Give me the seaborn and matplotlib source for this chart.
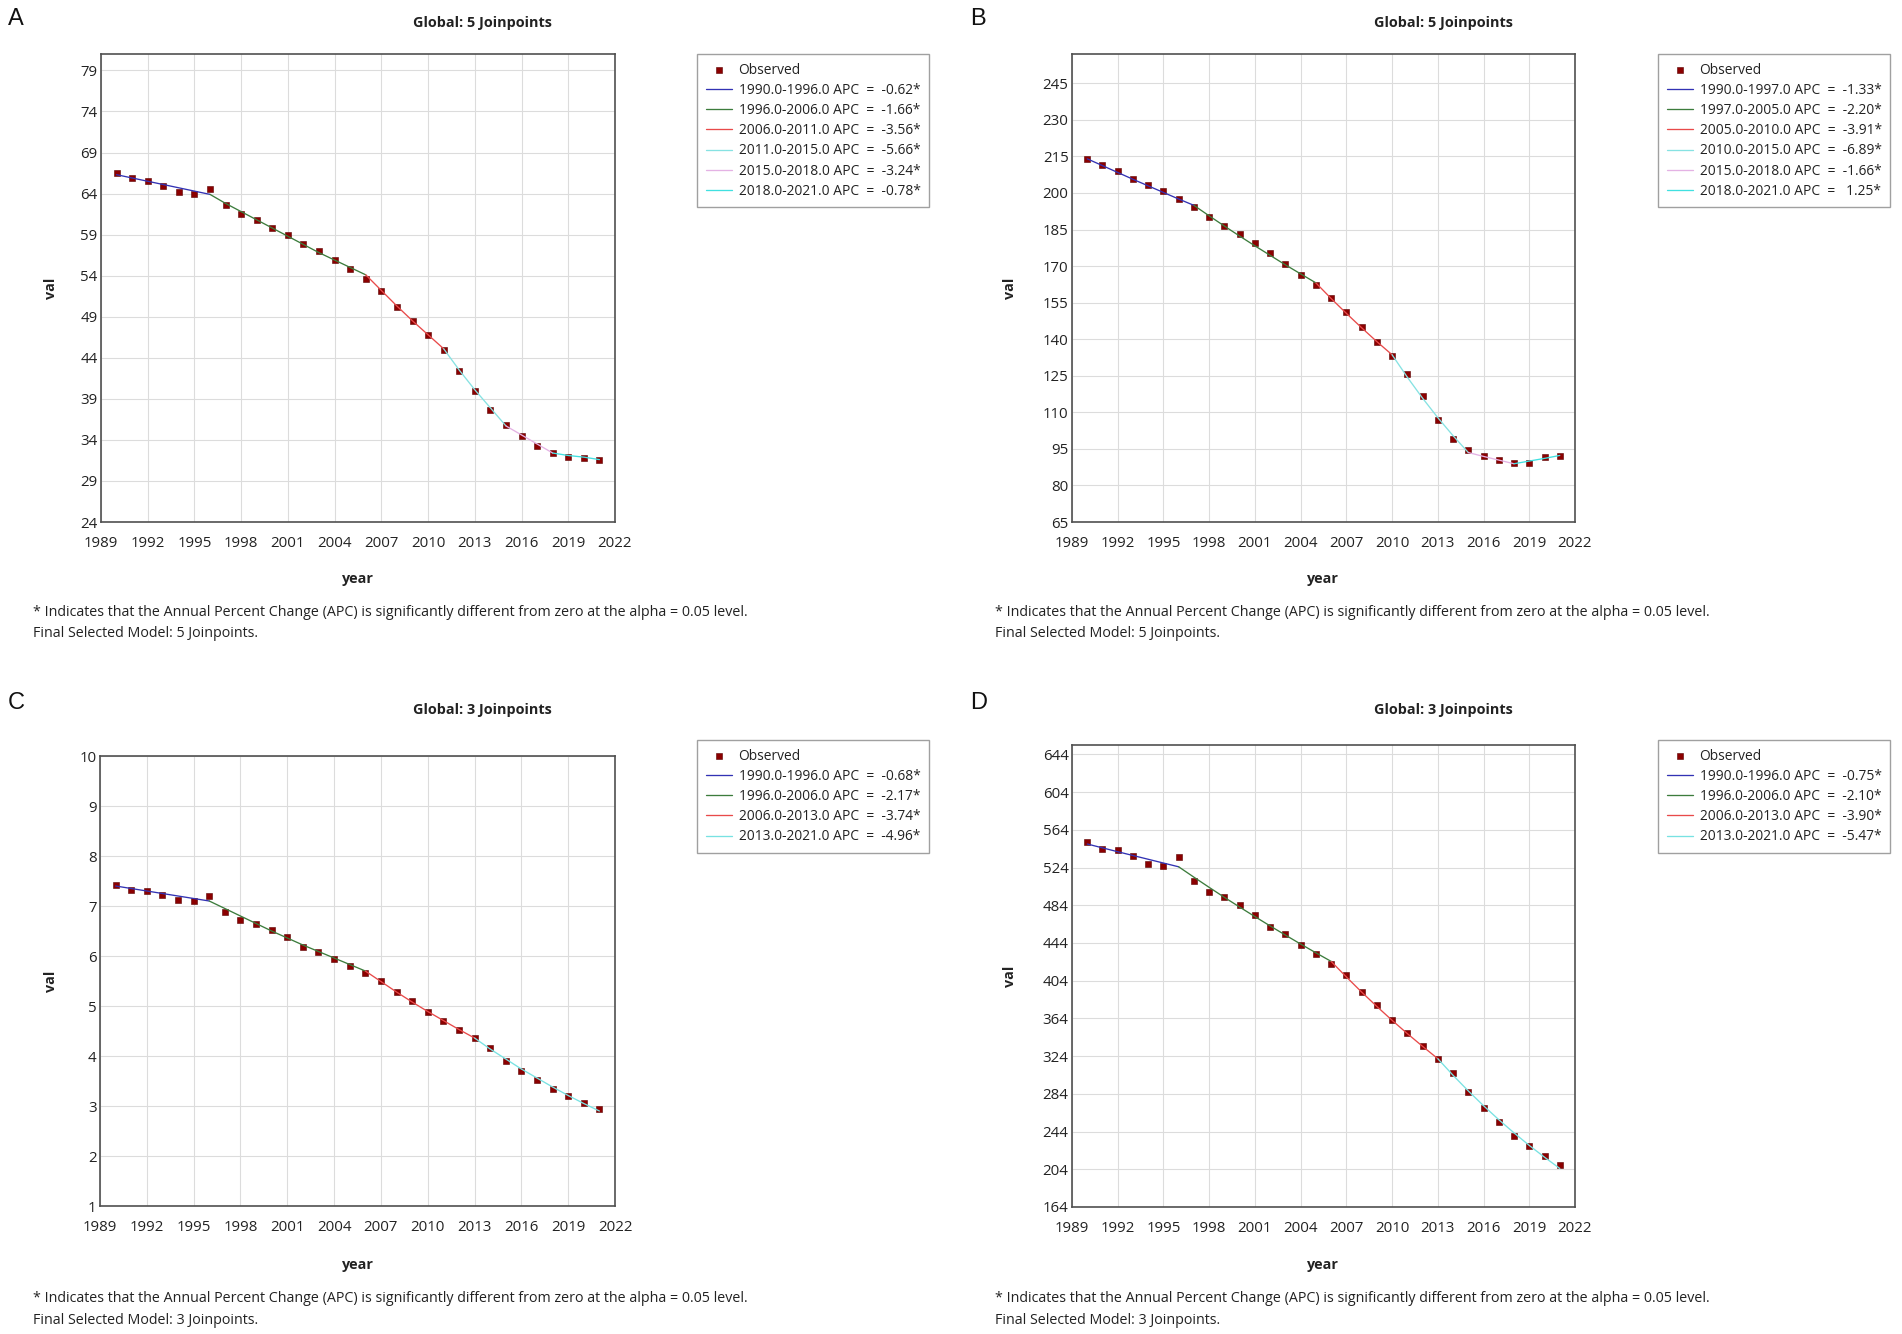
import matplotlib
matplotlib.use("Agg")
import matplotlib.pyplot as plt
import seaborn as sns
import pandas as pd

# ---------------- data ----------------
years = list(range(1990, 2022))

a_obs = [66.5, 65.9, 65.5, 64.9, 64.2, 63.9, 64.5, 62.6, 61.5, 60.8, 59.8, 59.0, 57.8, 57.0, 55.9, 54.8,
         53.6, 52.1, 50.2, 48.5, 46.8, 44.9, 42.4, 40.0, 37.7, 35.8, 34.5, 33.3, 32.4, 31.9, 31.8, 31.6]
a_fit = [66.3, 65.9, 65.5, 65.1, 64.7, 64.3, 63.9, 62.8, 61.8, 60.8, 59.8, 58.8, 57.8, 56.8, 55.9, 55.0,
         54.1, 52.2, 50.3, 48.5, 46.8, 45.1, 42.5, 40.1, 37.9, 35.7, 34.6, 33.5, 32.4, 32.1, 31.9, 31.6]
a_join_years = [1990, 1996, 2006, 2011, 2015, 2018, 2021]
a_apc = [-0.62, -1.66, -3.56, -5.66, -3.24, -0.78]

b_obs = [214.0, 211.4, 208.8, 205.8, 203.2, 200.6, 197.6, 194.1, 190.3, 186.6, 183.1, 179.4, 175.2, 171.0,
         166.5, 162.1, 157.0, 151.1, 144.8, 138.7, 132.9, 125.7, 116.6, 107.0, 98.9, 94.4, 92.1, 90.4,
         89.1, 89.1, 91.8, 92.1]
b_fit = [214.0, 211.2, 208.4, 205.6, 202.9, 200.2, 197.5, 194.9, 190.6, 186.4, 182.3, 178.3, 174.4, 170.5,
         166.8, 163.1, 156.7, 150.6, 144.7, 139.0, 133.6, 124.4, 115.8, 107.8, 100.4, 93.5, 91.9, 90.4,
         88.9, 90.0, 91.1, 92.3]
b_join_years = [1990, 1997, 2005, 2010, 2015, 2018, 2021]
b_apc = [-1.33, -2.20, -3.91, -6.89, -1.66, 1.25]

c_obs = [7.42, 7.33, 7.30, 7.23, 7.13, 7.10, 7.21, 6.88, 6.73, 6.65, 6.52, 6.38, 6.19, 6.09, 5.94, 5.81,
         5.67, 5.50, 5.28, 5.10, 4.88, 4.71, 4.52, 4.37, 4.17, 3.91, 3.70, 3.52, 3.34, 3.20, 3.06, 2.95]
c_fit = [7.40, 7.35, 7.30, 7.25, 7.20, 7.15, 7.10, 6.95, 6.80, 6.65, 6.50, 6.36, 6.22, 6.09, 5.96, 5.83,
         5.70, 5.49, 5.28, 5.08, 4.89, 4.71, 4.53, 4.36, 4.14, 3.94, 3.74, 3.56, 3.38, 3.21, 3.05, 2.90]
c_join_years = [1990, 1996, 2006, 2013, 2021]
c_apc = [-0.68, -2.17, -3.74, -4.96]

d_obs = [551.3, 544.1, 542.3, 536.5, 527.9, 525.7, 534.7, 509.9, 498.3, 492.4, 483.9, 474.0, 460.5, 453.3,
         441.6, 432.1, 422.2, 409.6, 391.6, 378.6, 362.0, 348.4, 334.5, 321.5, 305.7, 285.5, 268.8, 254.0,
         239.6, 229.2, 217.6, 208.6]
d_fit = [549.0, 544.9, 540.8, 536.8, 532.8, 528.8, 524.8, 513.8, 503.0, 492.4, 482.1, 472.0, 462.1, 452.4,
         442.9, 433.6, 424.5, 408.0, 392.0, 376.7, 362.0, 347.9, 334.4, 321.3, 303.7, 287.1, 271.4, 256.6,
         242.6, 229.3, 216.8, 204.9]
d_join_years = [1990, 1996, 2006, 2013, 2021]
d_apc = [-0.75, -2.10, -3.90, -5.47]

x_ticks = list(range(1989, 2023, 3))
a_yticks = list(range(24, 80, 5))
b_yticks = list(range(65, 246, 15))
c_yticks = list(range(1, 11))
d_yticks = list(range(164, 645, 40))

panel_letters = ["A", "B", "C", "D"]
titles = ["Global: 5 Joinpoints", "Global: 5 Joinpoints", "Global: 3 Joinpoints", "Global: 3 Joinpoints"]
foot1 = "* Indicates that the Annual Percent Change (APC) is significantly different from zero at the alpha = 0.05 level."
foot2 = ["Final Selected Model: 5 Joinpoints.", "Final Selected Model: 5 Joinpoints.",
         "Final Selected Model: 3 Joinpoints.", "Final Selected Model: 3 Joinpoints."]

colors6 = ["#3232b4", "#3c7c3c", "#e84a4a", "#86e2e2", "#e4b2e4", "#40e0e0"]
colors4 = ["#3232b4", "#3c7c3c", "#e84a4a", "#78e2e2"]

# ---------------- style ----------------
sns.set_theme(style="whitegrid")
plt.rcParams['font.family'] = ['Open Sans', 'DejaVu Sans']

W, H = 1902, 1334
fig = plt.figure(figsize=(W / 100, H / 100), dpi=100)
fig.patch.set_facecolor("white")

def px_axes(l, t, r, b):
    return fig.add_axes([l / W, 1 - b / H, (r - l) / W, (b - t) / H])

def ftext(x, y, s, **kw):
    fig.text(x / W, 1 - y / H, s, **kw)

panels = [
    dict(box=(101, 54, 615, 522), ylim=(24, 81), yt=a_yticks, obs=a_obs, fit=a_fit, jy=a_join_years,
         apc=a_apc, cols=colors6, leg=(697, 54), title=(482, 23), letter=(8, 19), xlab=(358, 579), ylab=(51, 288),
         foot=(33, 612)),
    dict(box=(1072, 54, 1575, 522), ylim=(65, 257), yt=b_yticks, obs=b_obs, fit=b_fit, jy=b_join_years,
         apc=b_apc, cols=colors6, leg=(1658, 54), title=(1443, 23), letter=(970, 19), xlab=(1323, 579),
         ylab=(1010, 288), foot=(995, 612)),
    dict(box=(100, 756, 615, 1206), ylim=(1, 10), yt=c_yticks, obs=c_obs, fit=c_fit, jy=c_join_years,
         apc=c_apc, cols=colors4, leg=(697, 740), title=(482, 710), letter=(8, 703), xlab=(358, 1265),
         ylab=(51, 981), foot=(33, 1299)),
    dict(box=(1072, 745, 1575, 1207), ylim=(164, 654), yt=d_yticks, obs=d_obs, fit=d_fit, jy=d_join_years,
         apc=d_apc, cols=colors4, leg=(1658, 740), title=(1443, 710), letter=(970, 703), xlab=(1323, 1265),
         ylab=(1010, 976), foot=(995, 1299)),
]

for i, p in enumerate(panels):
    ax = px_axes(*p["box"])
    ax.set_facecolor("white")
    df = pd.DataFrame({"year": years, "val": p["obs"], "fit": p["fit"]})
    sns.scatterplot(data=df, x="year", y="val", marker="s", color="#8b0000", s=24,
                    edgecolor="#5a0000", linewidth=0.4, ax=ax, zorder=3, label="Observed")
    jy = p["jy"]
    for k in range(len(jy) - 1):
        seg = df[(df["year"] >= jy[k]) & (df["year"] <= jy[k + 1])]
        lab = f"{jy[k]:.1f}-{jy[k + 1]:.1f} APC  =  {p['apc'][k]:5.2f}*"
        sns.lineplot(data=seg, x="year", y="fit", color=p["cols"][k], linewidth=0.95, ax=ax,
                     zorder=4, label=lab)
    ax.set_xlim(1989, 2022)
    ax.set_ylim(*p["ylim"])
    ax.set_xticks(x_ticks)
    ax.set_yticks(p["yt"])
    ax.set_xlabel("")
    ax.set_ylabel("")
    ax.grid(True, color="#dcdcdc", linewidth=0.8)
    ax.set_axisbelow(True)
    ax.tick_params(axis="x", length=0, pad=10, labelsize=10.8, colors="#222222")
    ax.tick_params(axis="y", length=0, pad=2.5, labelsize=10.8, colors="#222222")
    for sp in ax.spines.values():
        sp.set_visible(True)
        sp.set_color("#505050")
        sp.set_linewidth(1.2)

    handles, labels = ax.get_legend_handles_labels()
    ax.get_legend().remove()
    lg = ax.legend(handles, labels, loc="upper left",
                   bbox_to_anchor=(p["leg"][0] / W, 1 - p["leg"][1] / H), bbox_transform=fig.transFigure,
                   frameon=True, fancybox=False, edgecolor="#a0a0a0", fontsize=9.9,
                   handlelength=1.9, handletextpad=0.5, labelspacing=0.38, borderpad=0.62,
                   borderaxespad=0, framealpha=1)
    lg.get_frame().set_linewidth(1.0)
    for t in lg.get_texts():
        t.set_color("#222222")

    ftext(*p["title"], titles[i], ha="center", va="center", fontsize=10.4, fontweight="bold", color="#222222")
    ftext(*p["letter"], panel_letters[i], ha="left", va="center", fontsize=17,
          family=["Liberation Sans", "DejaVu Sans"], color="#111111")
    ftext(*p["xlab"], "year", ha="center", va="center", fontsize=10.4, fontweight="bold", color="#222222")
    ftext(*p["ylab"], "val", ha="center", va="center", fontsize=10.4, fontweight="bold", rotation=90,
          color="#222222")
    fx, fy = p["foot"]
    ftext(fx, fy, foot1, ha="left", va="center", fontsize=10.3, color="#222222")
    ftext(fx, fy + 21, foot2[i], ha="left", va="center", fontsize=10.3, color="#222222")

fig.savefig("out.png", dpi=100, facecolor="white")
